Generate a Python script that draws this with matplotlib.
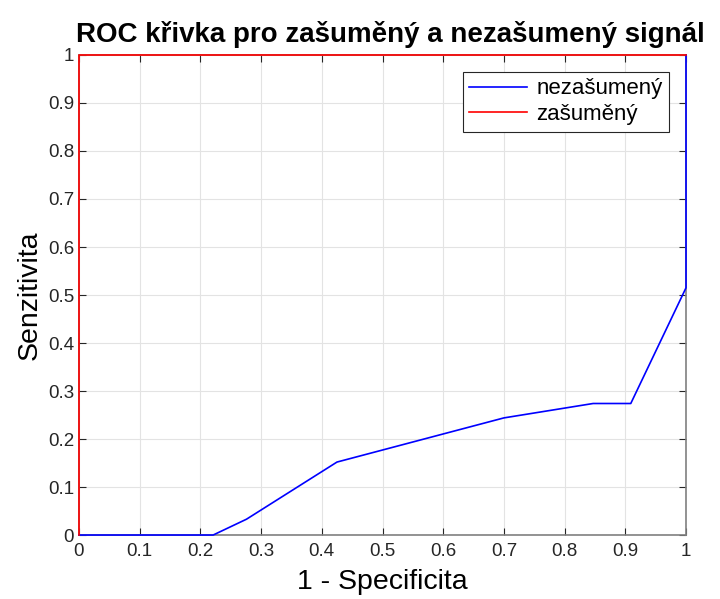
import matplotlib
matplotlib.use("Agg")
import matplotlib.pyplot as plt

# ROC body
fpr_clean = [0.0, 0.221, 0.276, 0.425, 0.70, 0.847, 0.909, 1.0, 1.0]
tpr_clean = [0.0, 0.0, 0.033, 0.152, 0.244, 0.274, 0.274, 0.515, 1.0]
fpr_noisy = [0.0, 0.0, 1.0]
tpr_noisy = [0.0, 1.0, 1.0]

xticks = [0, 0.1, 0.2, 0.3, 0.4, 0.5, 0.6, 0.7, 0.8, 0.9, 1]
yticks = [0, 0.1, 0.2, 0.3, 0.4, 0.5, 0.6, 0.7, 0.8, 0.9, 1]

plt.rcParams['font.family'] = ['Liberation Sans', 'DejaVu Sans']

fig = plt.figure(figsize=(7.2, 5.99), dpi=100)
ax = fig.add_axes([0.1097, 0.1068, 0.8431, 0.8014])

ax.plot(fpr_clean, tpr_clean, color='#0000ff', lw=1.2, label='nezašumený', clip_on=False, zorder=3)
ax.plot(fpr_noisy, tpr_noisy, color='#ff0000', lw=1.2, label='zašuměný', clip_on=False, zorder=3)

ax.set_xlim(0, 1)
ax.set_ylim(0, 1)
ax.set_xticks(xticks)
ax.set_yticks(yticks)
ax.set_xticklabels([f'{t:g}' for t in xticks])
ax.set_yticklabels([f'{t:g}' for t in yticks])
ax.tick_params(direction='in', length=5, labelsize=13.5, colors='#262626', top=True, right=True)
ax.tick_params(axis='x', pad=6)
ax.grid(True, color='#e3e3e3', lw=0.8)
ax.set_axisbelow(True)
for s in ax.spines.values():
    s.set_color('#808080')
    s.set_linewidth(1.2)

ax.set_xlabel('1 - Specificita', fontsize=20.5, labelpad=6)
ax.set_ylabel('Senzitivita', fontsize=20.5, labelpad=4)
ax.set_title('ROC křivka pro zašuměný a nezašumený signál', fontsize=20, fontweight='bold',
             pad=9, x=0.513)

leg = ax.legend(loc='upper right', bbox_to_anchor=(0.972, 0.965), fontsize=16, fancybox=False,
                framealpha=1, edgecolor='#262626', handlelength=2.6, borderpad=0.3,
                labelspacing=0.2, handletextpad=0.4, borderaxespad=0)
leg.get_frame().set_linewidth(0.8)

fig.savefig('out.png', dpi=100)
